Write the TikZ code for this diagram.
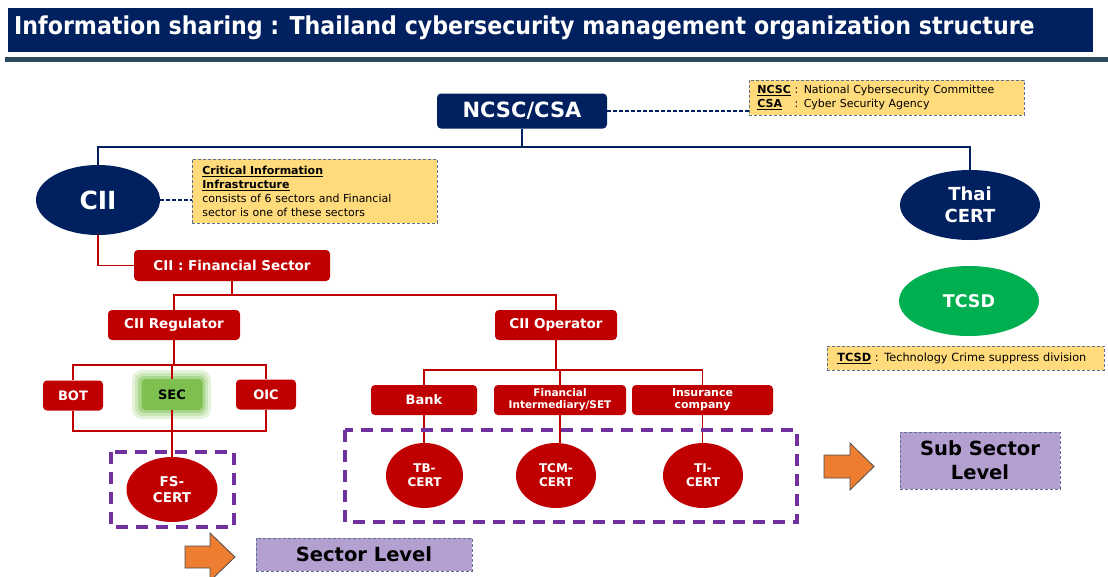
\documentclass[tikz,border=0pt]{standalone}
\usepackage{fontspec}
\setmainfont{DejaVu Sans}
\newfontfamily\titlefont{DejaVu Sans Condensed}
\usetikzlibrary{shapes.geometric}

\definecolor{navy}{HTML}{002060}
\definecolor{cardinal}{HTML}{C00000}
\definecolor{notefill}{HTML}{FFDB7C}
\definecolor{notedash}{HTML}{5F7090}
\definecolor{levelfill}{HTML}{B49FD1}
\definecolor{framepurple}{HTML}{7030A0}
\definecolor{arrowfill}{HTML}{ED7D31}
\definecolor{tcsdgreen}{HTML}{00B050}
\definecolor{secgreen}{HTML}{7DC050}
\definecolor{barline}{HTML}{2A4B5C}

\begin{document}
\begin{tikzpicture}
[x=1pt,y=-1pt,
  navybox/.style={shape=rectangle,rounded corners=4pt,fill=navy,text=white,
    font=\bfseries\fontsize{21}{24}\selectfont,inner sep=0pt},%
  navyoval/.style={shape=ellipse,fill=navy,text=white,inner sep=0pt,align=center},%
  redbox/.style={shape=rectangle,rounded corners=4pt,fill=cardinal,text=white,
    inner sep=0pt,align=center,font=\bfseries\fontsize{13.5}{15}\selectfont},%
  redoval/.style={shape=ellipse,fill=cardinal,text=white,inner sep=0pt,align=center,
    font=\bfseries\fontsize{12}{14}\selectfont},%
  notebox/.style={shape=rectangle,fill=notefill,draw=notedash,densely dashed,
    line width=0.8pt,align=left,font=\fontsize{11}{14}\selectfont},%
  levelbox/.style={shape=rectangle,fill=levelfill,draw=notedash,densely dashed,
    line width=0.8pt,align=center,font=\bfseries\fontsize{19.5}{24}\selectfont},%
  navyline/.style={-,draw=navy,line width=1.6pt},%
  notelink/.style={-,draw=navy,line width=2pt,dash pattern=on 4pt off 2pt},%
  redline/.style={-,draw=cardinal,line width=1.6pt},%
  hv/.style={to path={-| (\tikztotarget)}},%
  levelframe/.style={draw=framepurple,line width=3.6pt,dash pattern=on 12pt off 8pt},%
  levelarrow/.style={fill=arrowfill,draw=black!70,line width=0.8pt,line join=miter}]
\useasboundingbox (0,0) rectangle (1108,576);

%% title bar
\fill[navy] (8,8) rectangle (1093,52);
\fill[barline] (5,57) rectangle (1108,62);
\node[anchor=west,text=white,font=\titlefont\bfseries\fontsize{24.6}{28}\selectfont,
  inner sep=0pt] (title) at (14,28)
  {Information sharing : Thailand cybersecurity management organization structure};

%% national level
\node[navybox,minimum width=170,minimum height=35] (ncsc) at (522,111) {NCSC/CSA};
\node[notebox,anchor=west,text width=259,minimum height=35,inner xsep=8pt,
  font=\fontsize{11}{14}\selectfont] (ncscnote) at (749,97.5)
  {\textbf{\underline{NCSC}} : National Cybersecurity Committee\\
   \leavevmode\rlap{\textbf{\underline{CSA}}}\hphantom{\textbf{NCSC}} : Cyber Security Agency};
\node[navyoval,minimum width=124,minimum height=70,
  font=\bfseries\fontsize{25}{28}\selectfont] (cii) at (98,200) {CII};
\node[notebox,anchor=north west,text width=225,minimum height=64,inner xsep=10pt,
  inner ysep=4pt] (ciinote) at (192,159)
  {\textbf{\underline{Critical Information}}\\ \textbf{\underline{Infrastructure}}\\
   consists of 6 sectors and Financial\\ sector is one of these sectors};
\node[navyoval,minimum width=140,minimum height=70,
  font=\bfseries\fontsize{18}{22}\selectfont] (thaicert) at (970,205) {Thai\\CERT};
\node[shape=ellipse,fill=tcsdgreen,text=white,inner sep=0pt,minimum width=140,
  minimum height=70,font=\bfseries\fontsize{17.5}{20}\selectfont] (tcsd) at (969,301) {TCSD};
\node[notebox,anchor=north west,text width=257,minimum height=24,inner xsep=10pt,
  inner ysep=2pt,font=\fontsize{11.3}{14}\selectfont] (tcsdnote) at (827,346)
  {\textbf{\underline{TCSD}} : Technology Crime suppress division};

%% financial sector
\node[redbox,minimum width=196,minimum height=31] (finsector) at (232,265.5) {CII : Financial Sector};
\node[redbox,minimum width=132,minimum height=30] (regulator) at (174,325) {CII Regulator};
\node[redbox,minimum width=122,minimum height=30] (operator) at (556,325) {CII Operator};

%% regulators
\fill[secgreen!20,rounded corners=10pt] (132,370) rectangle (211,419);
\fill[secgreen!40,rounded corners=8pt] (135,373) rectangle (208,416);
\fill[secgreen!65,rounded corners=6pt] (138,376) rectangle (205,413);
\foreach \nodename/\x/\y/\w/\label in {bot/73/395.5/60/BOT, oic/266/394.5/60/OIC}
{
  \node[redbox,minimum width=\w,minimum height=30,font=\bfseries\fontsize{13}{15}\selectfont]
    (\nodename) at (\x,\y) {\label};
}
\node[redbox,fill=secgreen,text=black,minimum width=61,minimum height=31,
  font=\bfseries\fontsize{13}{15}\selectfont] (sec) at (172,394.5) {SEC};
\node[redoval,minimum width=91,minimum height=65,
  font=\bfseries\fontsize{13.5}{16}\selectfont] (fscert) at (172,489.5) {FS-\\CERT};

%% operators
\foreach \nodename/\x/\w/\label/\size in {bank/424/106/Bank/13,
  fimed/560/132/{Financial\\Intermediary/SET}/10.5, insurance/702.5/141/{Insurance\\company}/11}
{
  \node[redbox,minimum width=\w,minimum height=30,
    font=\bfseries\fontsize{\size}{12}\selectfont] (\nodename) at (\x,400) {\label};
}
\foreach \nodename/\x/\w/\label in {tbcert/424.5/77/TB-, tcmcert/556/80/TCM-, ticert/703/80/TI-}
{
  \node[redoval,minimum width=\w,minimum height=65] (\nodename) at (\x,475.5) {\label\\CERT};
}

%% edges or lines
\draw[notelink] (ncsc.east) -- (ncsc.east -| ncscnote.west);
\draw[notelink] (cii.east) -- (cii.east -| ciinote.west);
\draw[navyline] (ncsc.south) -- ++(0,18) coordinate (natsplit);
\draw[navyline] (natsplit) -| (cii.north);
\draw[navyline] (natsplit) -| (thaicert.north);
\draw[redline] (cii.south) |- (finsector.west);
\draw[redline] (finsector.south) -- ++(0,14) coordinate (finsplit);
\draw[redline] (finsplit) -| (regulator.north);
\draw[redline] (finsplit) -| (operator.north);
\draw[redline] (regulator.south) -- ++(0,25) coordinate (regsplit);
\path
\foreach \endnode in {bot, sec, oic}
{
  (regsplit) edge[redline,hv] (\endnode.north)
};
\draw[redline] (bot.south) -- ++(0,20) -| (oic.south);
\draw[redline] (sec.south) -- (fscert.north);
\draw[redline] (operator.south) -- ++(0,30) coordinate (opsplit);
\path
\foreach \startnode/\endnode in {bank/tbcert, fimed/tcmcert, insurance/ticert}
{
  (opsplit) edge[redline,hv] (\startnode.north)
  (\startnode.south) edge[redline] (\startnode.south |- \endnode.north)
};

%% levels
\draw[levelframe] (111,452) rectangle (234,527);
\draw[levelframe] (345,430) rectangle (797,522);
\draw[levelarrow] (185,546) -- (210,546) -- (210,533) -- (235,557) -- (210,581)
  -- (210,568) -- (185,568) -- cycle;
\draw[levelarrow] (824,455) -- (850,455) -- (850,443) -- (874,466.5) -- (850,490)
  -- (850,478) -- (824,478) -- cycle;
\node[levelbox,minimum width=216,minimum height=33] (sectorlevel) at (364,554.5) {Sector Level};
\node[levelbox,minimum width=160,minimum height=57] (sublevel) at (980,460.5) {Sub Sector\\Level};
\end{tikzpicture}
\end{document}
